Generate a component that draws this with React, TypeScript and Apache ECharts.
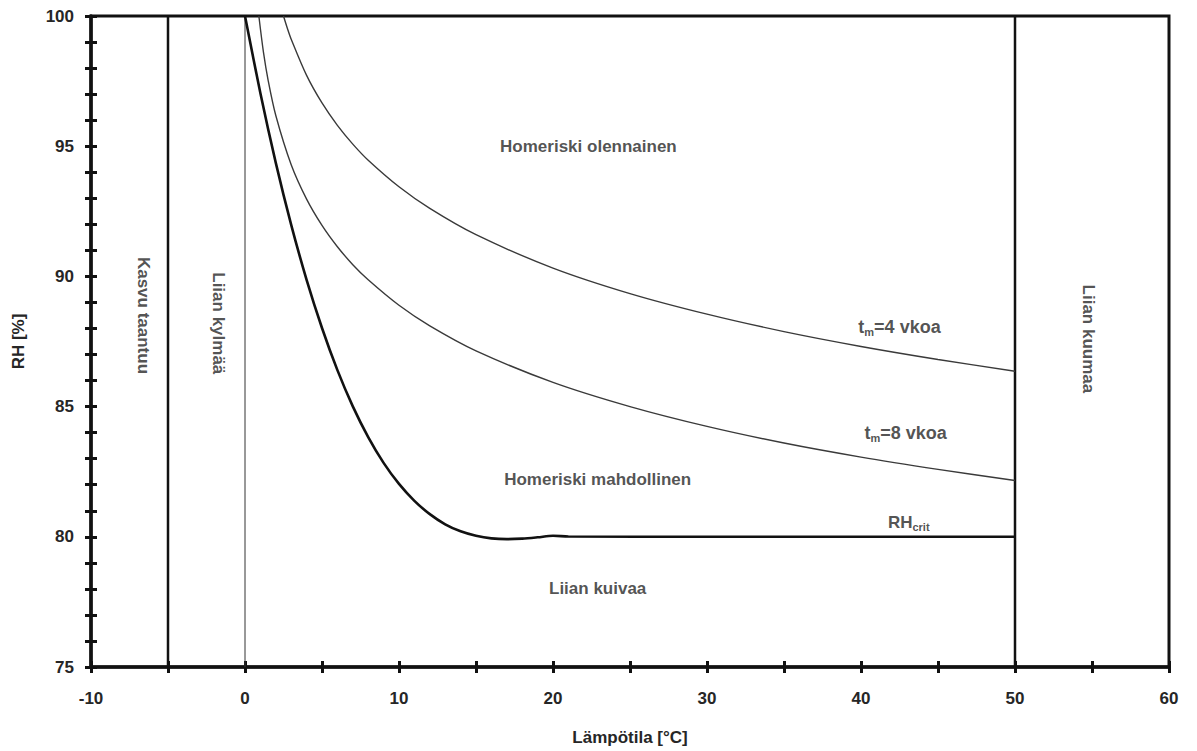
import React, { useEffect, useRef } from "react";
import * as echarts from "echarts";

// ---- data ----
const xMin = -10;
const xMax = 60;
const yMin = 75;
const yMax = 100;

// Critical RH curve (thick) [temperature, RH]
const rhCritCurve: [number, number][] = [
  [0, 100], [1, 97.03], [2, 94.36], [3, 91.98], [4, 89.87], [5, 88.02],
  [6, 86.4], [7, 85.01], [8, 83.83], [9, 82.84], [10, 82.03], [11, 81.38],
  [12, 80.87], [13, 80.48], [14, 80.21], [15, 80.04], [16, 79.94], [17, 79.91],
  [18, 79.93], [19, 79.98], [20, 80.04], [21, 80.01], [30, 80], [40, 80], [50, 80],
];

// t_m = 8 weeks
const tm8Curve: [number, number][] = [
  [0.9, 100], [1.2, 98.6], [1.5, 97.54], [2, 96.18], [3, 94.29], [4, 92.97],
  [5, 91.96], [6, 91.14], [7, 90.45], [8, 89.87], [10, 88.89], [12, 88.1],
  [15, 87.14], [20, 85.93], [25, 85.0], [30, 84.24], [35, 83.6], [40, 83.06],
  [45, 82.59], [50, 82.16],
];

// t_m = 4 weeks
const tm4Curve: [number, number][] = [
  [2.5, 100], [2.75, 99.53], [3, 99.11], [4, 97.72], [5, 96.66], [6, 95.8],
  [7, 95.08], [8, 94.46], [10, 93.44], [12, 92.61], [15, 91.6], [20, 90.32],
  [25, 89.34], [30, 88.55], [35, 87.88], [40, 87.31], [45, 86.81], [50, 86.36],
];

// vertical boundary lines (temperature)
const boundaryTemps = [-5, 0, 50];
const boundaryHeavy = [true, false, true];

// annotations
const annotationTexts = [
  "Homeriski olennainen",
  "Homeriski mahdollinen",
  "Liian kuivaa",
  "{m|t}{sub|m}{m|=4 vkoa}",
  "{m|t}{sub|m}{m|=8 vkoa}",
  "{n|RH}{sub|crit}",
  "Kasvu taantuu",
  "Liian kylmää",
  "Liian kuumaa",
];
const annotationX = [22.3, 22.9, 22.9, 42.5, 42.9, 43.1, -6.6, -1.7, 54.8];
const annotationY = [95.0, 82.2, 78.0, 88.05, 84.0, 80.56, 88.5, 88.2, 87.6];
const annotationVertical = [false, false, false, false, false, false, true, true, true];

const FONT = "'Liberation Sans', Arial, Helvetica, sans-serif";
const TEXT = "#262626";

export default function App() {
  const ref = useRef<HTMLDivElement>(null);

  useEffect(() => {
    document.body.style.margin = "0";
    if (!ref.current) return;
    const chart = echarts.init(ref.current, undefined, { renderer: "svg" });

    const axisLabelBase = {
      fontFamily: FONT,
      fontWeight: "bold" as const,
      fontSize: 17,
      color: TEXT,
    };

    const tickStyle = { color: "#111", width: 3 };

    const boundarySeries = boundaryTemps.map((t, i) => ({
      type: "line" as const,
      name: "boundary" + i,
      data: [[t, yMin], [t, yMax]],
      symbol: "none",
      silent: true,
      lineStyle: {
        color: boundaryHeavy[i] ? "#111" : "#333",
        width: boundaryHeavy[i] ? 2.5 : 1,
      },
      z: 2,
    }));

    const annotationData = annotationTexts.map((txt, i) => ({
      value: [annotationX[i], annotationY[i]],
      label: {
        show: true,
        formatter: txt,
        rotate: annotationVertical[i] ? -90 : 0,
      },
    }));

    chart.setOption({
      animation: false,
      backgroundColor: "#fff",
      grid: {
        left: 91,
        right: 28,
        top: 16,
        bottom: 82,
        show: true,
        borderColor: "#111",
        borderWidth: 3,
        backgroundColor: "transparent",
      },
      xAxis: [
        {
          type: "value",
          min: xMin,
          max: xMax,
          interval: 5,
          name: "Lämpötila [°C]",
          nameLocation: "middle",
          nameGap: 62,
          nameTextStyle: { ...axisLabelBase },
          axisLine: { show: true, onZero: false, lineStyle: { color: "#111", width: 3.5 } },
          axisTick: { show: true, inside: false, length: 6, lineStyle: tickStyle },
          axisLabel: {
            ...axisLabelBase,
            margin: 23,
            formatter: (v: number) => (v % 10 === 0 ? String(v) : ""),
          },
          splitLine: { show: false },
        },
        {
          type: "value",
          min: xMin,
          max: xMax,
          interval: 5,
          position: "bottom",
          offset: 0,
          axisLine: { show: false, onZero: false },
          axisTick: { show: true, inside: true, length: 6, lineStyle: tickStyle },
          axisLabel: { show: false },
          splitLine: { show: false },
        },
      ],
      yAxis: [
        {
          type: "value",
          min: yMin,
          max: yMax,
          interval: 1,
          name: "RH [%]",
          nameLocation: "middle",
          nameGap: 64,
          nameRotate: 90,
          nameTextStyle: { ...axisLabelBase },
          axisLine: { show: true, onZero: false, lineStyle: { color: "#111", width: 3.5 } },
          axisTick: { show: true, inside: false, length: 6, lineStyle: tickStyle },
          axisLabel: {
            ...axisLabelBase,
            margin: 17,
            formatter: (v: number) => (v % 5 === 0 ? String(v) : ""),
          },
          splitLine: { show: false },
        },
        {
          type: "value",
          min: yMin,
          max: yMax,
          interval: 1,
          position: "left",
          offset: 0,
          axisLine: { show: false, onZero: false },
          axisTick: { show: true, inside: true, length: 6, lineStyle: tickStyle },
          axisLabel: { show: false },
          splitLine: { show: false },
        },
      ],
      series: [
        ...boundarySeries,
        {
          type: "line",
          name: "tm4",
          data: tm4Curve,
          smooth: 0.3,
          symbol: "none",
          lineStyle: { color: "#3a3a3a", width: 1.4 },
          z: 3,
        },
        {
          type: "line",
          name: "tm8",
          data: tm8Curve,
          smooth: 0.3,
          symbol: "none",
          lineStyle: { color: "#3a3a3a", width: 1.4 },
          z: 3,
        },
        {
          type: "line",
          name: "RHcrit",
          data: rhCritCurve,
          smooth: 0.3,
          symbol: "none",
          lineStyle: { color: "#111", width: 2.6 },
          z: 4,
        },
        {
          type: "scatter",
          name: "labels",
          data: annotationData,
          symbolSize: 1,
          itemStyle: { color: "transparent" },
          silent: true,
          z: 5,
          label: {
            show: true,
            position: "inside",
            align: "center",
            verticalAlign: "middle",
            fontFamily: FONT,
            fontWeight: "bold",
            fontSize: 17,
            color: TEXT,
            rich: {
              n: { fontFamily: FONT, fontWeight: "bold", fontSize: 17, color: TEXT, lineHeight: 20 },
              m: { fontFamily: FONT, fontWeight: "bold", fontSize: 18, color: TEXT, lineHeight: 20 },
              sub: {
                fontFamily: FONT,
                fontWeight: "bold",
                fontSize: 11,
                color: TEXT,
                lineHeight: 10,
                padding: [10, 0, 0, 0],
              },
            },
          },
        },
      ],
    });

    return () => chart.dispose();
  }, []);

  return (
    <div
      ref={ref}
      style={{ position: "absolute", left: 0, top: 0, width: 1197, height: 751 }}
    />
  );
}
